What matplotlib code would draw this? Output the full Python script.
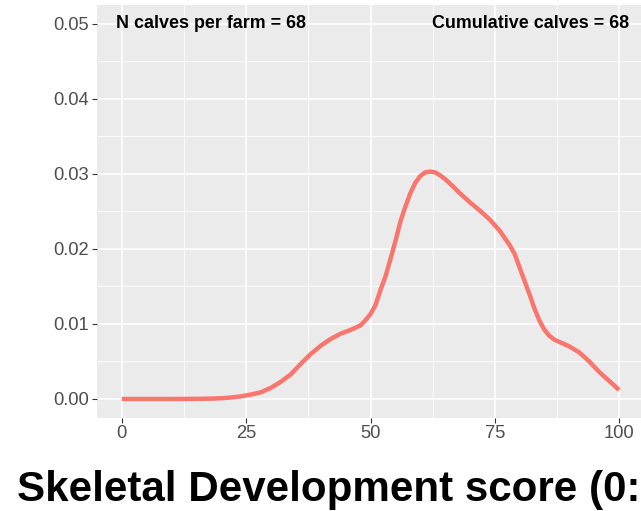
import matplotlib.pyplot as plt
from matplotlib.ticker import MultipleLocator

# density of skeletal development score
score = [0, 5, 10, 15, 18, 20, 22, 24, 26, 28, 30, 32, 34, 36, 38, 40, 42, 44,
         46, 48, 49, 50, 51, 52, 53, 54, 55, 56, 57, 58, 59, 60, 61, 62, 63, 64,
         65, 66, 68, 70, 72, 74, 76, 78, 79, 80, 81, 82, 83, 84, 85, 86, 87, 88,
         90, 92, 94, 96, 98, 100]
density = [0.0, 0.0, 0.0, 0.00002, 0.00005, 0.0001, 0.0002, 0.00035, 0.0006,
           0.0009, 0.0015, 0.0023, 0.0033, 0.0047, 0.0060, 0.0071, 0.0080,
           0.0087, 0.0092, 0.0098, 0.0105, 0.0113, 0.0125, 0.0145, 0.0163,
           0.0186, 0.0210, 0.0236, 0.0256, 0.0274, 0.0288, 0.0297, 0.0302,
           0.0303, 0.0302, 0.0298, 0.0293, 0.0287, 0.0274, 0.0262, 0.0251,
           0.0239, 0.0224, 0.0205, 0.0193, 0.0175, 0.0157, 0.0139, 0.0120,
           0.0104, 0.0092, 0.0084, 0.0079, 0.0076, 0.0070, 0.0062, 0.0050,
           0.0036, 0.0024, 0.0012]

x_ticks = [0, 25, 50, 75, 100]
y_ticks = [0.00, 0.01, 0.02, 0.03, 0.04, 0.05]
y_tick_labels = ["0.00", "0.01", "0.02", "0.03", "0.04", "0.05"]

n_label = "N calves per farm = 68"
cum_label = "Cumulative calves = 68"
x_title = "Skeletal Development score (0:100)"

plt.rcParams['font.family'] = ['Liberation Sans', 'DejaVu Sans']

W, H = 641, 511
fig = plt.figure(figsize=(W / 100, H / 100), dpi=100)
fig.patch.set_facecolor('white')

# panel runs a bit past the right edge of the figure
left, right, top, bottom = 97, 644, 5, 417.75
ax = fig.add_axes([left / W, (H - bottom) / H, (right - left) / W, (bottom - top) / H])
ax.set_facecolor('#EBEBEB')
for s in ax.spines.values():
    s.set_visible(False)

ax.set_xlim(-5, 105)
ax.set_ylim(-0.0025, 0.0525)
ax.set_xticks(x_ticks)
ax.set_yticks(y_ticks)
ax.set_yticklabels(y_tick_labels)
ax.xaxis.set_minor_locator(MultipleLocator(12.5))
ax.yaxis.set_minor_locator(MultipleLocator(0.005))

ax.grid(which='major', color='white', linewidth=1.1)
ax.grid(which='minor', color='white', linewidth=0.55)
ax.set_axisbelow(True)

ax.tick_params(which='major', length=3.5, width=0.8, color='#333333',
               labelsize=13.2, labelcolor='#4D4D4D', pad=2)
ax.tick_params(which='minor', length=0)

ax.plot(score, density, color='#F8766D', linewidth=3.2, solid_capstyle='butt',
        solid_joinstyle='round')

ax.text(-1.2, 0.05, n_label, ha='left', va='center', fontsize=12.9,
        fontweight='bold', color='black')
ax.text(102.0, 0.05, cum_label, ha='right', va='center', fontsize=12.9,
        fontweight='bold', color='black')

fig.text(17 / W, (H - 501) / H, x_title, ha='left', va='baseline',
         fontsize=30.3, fontweight='bold', color='black')

fig.savefig('out.png', dpi=100)
